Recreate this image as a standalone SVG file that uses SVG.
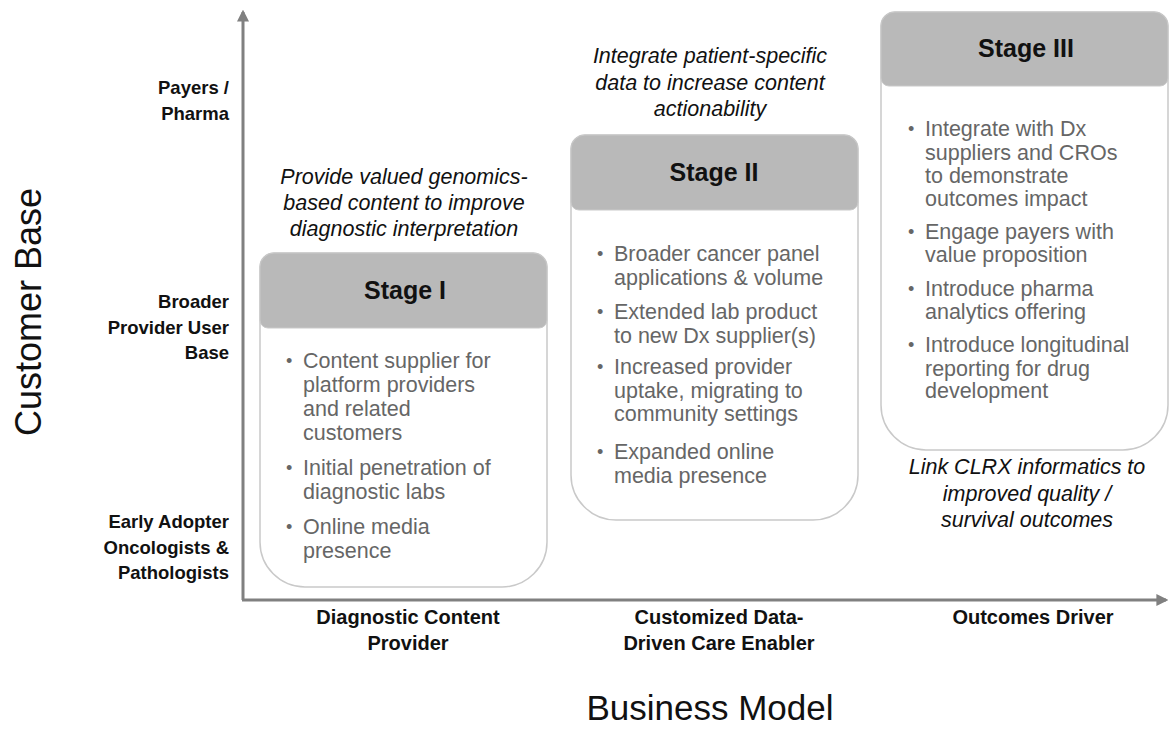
<svg xmlns="http://www.w3.org/2000/svg" width="1171" height="740" viewBox="0 0 1171 740">
<defs>
<marker id="arr" viewBox="0 0 10 10" refX="8" refY="5" markerWidth="4" markerHeight="4" orient="auto" markerUnits="strokeWidth">
<path d="M0,0 L10,5 L0,10 Z" fill="#808080"/>
</marker>
<style>
.box{fill:#ffffff;stroke:#c9c9c9;stroke-width:1.5}
.hdr{fill:#b9b9b9;stroke:#c9c9c9;stroke-width:1}
.title{font-family:"Liberation Sans",Arial,sans-serif;font-weight:bold;font-size:25px;fill:#111;text-anchor:middle}
.bul{font-family:"Liberation Sans",Arial,sans-serif;font-size:21.5px;fill:#666}
.dot{font-size:18px}
.cap{font-family:"Liberation Sans",Arial,sans-serif;font-style:italic;font-size:21.5px;fill:#111;text-anchor:middle}
.ylab{font-family:"Liberation Sans",Arial,sans-serif;font-weight:bold;font-size:18.5px;fill:#111;text-anchor:end}
.xlab{font-family:"Liberation Sans",Arial,sans-serif;font-weight:bold;font-size:20px;fill:#111;text-anchor:middle}
.axt{font-family:"Liberation Sans",Arial,sans-serif;font-size:36px;fill:#111;text-anchor:middle}
</style>
</defs>
<rect width="1171" height="740" fill="#ffffff"/>

<g id="connectors">
<line x1="243" y1="600" x2="243" y2="12" stroke="#808080" stroke-width="3" marker-end="url(#arr)"/>
<line x1="242" y1="600" x2="1166" y2="600" stroke="#808080" stroke-width="3" marker-end="url(#arr)"/>
</g>

<g id="axis-y-title">
<text class="axt" transform="translate(41,312) rotate(-90)" style="font-size:36px">Customer Base</text>
</g>
<g id="axis-x-title">
<text class="axt" x="710" y="720" style="font-size:35px">Business Model</text>
</g>

<g id="y-labels">
<text class="ylab" x="229" y="94">Payers /</text>
<text class="ylab" x="229" y="120">Pharma</text>
<text class="ylab" x="229" y="308">Broader</text>
<text class="ylab" x="229" y="334">Provider User</text>
<text class="ylab" x="229" y="359">Base</text>
<text class="ylab" x="229" y="528">Early Adopter</text>
<text class="ylab" x="229" y="554">Oncologists &amp;</text>
<text class="ylab" x="229" y="579">Pathologists</text>
</g>

<g id="x-labels">
<text class="xlab" x="408" y="624">Diagnostic Content</text>
<text class="xlab" x="408" y="650">Provider</text>
<text class="xlab" x="719" y="624">Customized Data-</text>
<text class="xlab" x="719" y="650">Driven Care Enabler</text>
<text class="xlab" x="1033" y="624">Outcomes Driver</text>
</g>

<g id="stage1">
<text class="cap" x="404" y="184">Provide valued genomics-</text>
<text class="cap" x="404" y="210">based content to improve</text>
<text class="cap" x="404" y="236">diagnostic interpretation</text>
<path class="box" d="M274,253 H533 A14,14 0 0 1 547,267 V542 A45,45 0 0 1 502,587 H305 A45,45 0 0 1 260,542 V267 A14,14 0 0 1 274,253 Z"/>
<path class="hdr" d="M274,253 H533 A14,14 0 0 1 547,267 V320 A8,8 0 0 1 539,328 H268 A8,8 0 0 1 260,320 V267 A14,14 0 0 1 274,253 Z"/>
<text class="title" x="405" y="299">Stage I</text>
<g class="bul">
<text class="dot" x="286" y="367">•</text><text x="303" y="368">Content supplier for</text>
<text x="303" y="392">platform providers</text>
<text x="303" y="416">and related</text>
<text x="303" y="440">customers</text>
<text class="dot" x="286" y="474">•</text><text x="303" y="475">Initial penetration of</text>
<text x="303" y="499">diagnostic labs</text>
<text class="dot" x="286" y="533">•</text><text x="303" y="534">Online media</text>
<text x="303" y="558">presence</text>
</g>
</g>

<g id="stage2">
<text class="cap" x="710" y="63">Integrate patient-specific</text>
<text class="cap" x="710" y="90">data to increase content</text>
<text class="cap" x="710" y="116">actionability</text>
<path class="box" d="M585,135 H844 A14,14 0 0 1 858,149 V475 A45,45 0 0 1 813,520 H616 A45,45 0 0 1 571,475 V149 A14,14 0 0 1 585,135 Z"/>
<path class="hdr" d="M585,135 H844 A14,14 0 0 1 858,149 V202 A8,8 0 0 1 850,210 H579 A8,8 0 0 1 571,202 V149 A14,14 0 0 1 585,135 Z"/>
<text class="title" x="714" y="181">Stage II</text>
<g class="bul">
<text class="dot" x="597" y="260">•</text><text x="614" y="261">Broader cancer panel</text>
<text x="614" y="285">applications &amp; volume</text>
<text class="dot" x="597" y="318">•</text><text x="614" y="319">Extended lab product</text>
<text x="614" y="343">to new Dx supplier(s)</text>
<text class="dot" x="597" y="373">•</text><text x="614" y="374">Increased provider</text>
<text x="614" y="398">uptake, migrating to</text>
<text x="614" y="421">community settings</text>
<text class="dot" x="597" y="458">•</text><text x="614" y="459">Expanded online</text>
<text x="614" y="483">media presence</text>
</g>
</g>

<g id="stage3">
<path class="box" d="M895,12 H1154 A14,14 0 0 1 1168,26 V405 A45,45 0 0 1 1123,450 H926 A45,45 0 0 1 881,405 V26 A14,14 0 0 1 895,12 Z"/>
<path class="hdr" d="M895,12 H1154 A14,14 0 0 1 1168,26 V78 A8,8 0 0 1 1160,86 H889 A8,8 0 0 1 881,78 V26 A14,14 0 0 1 895,12 Z"/>
<text class="title" x="1026" y="57">Stage III</text>
<g class="bul">
<text class="dot" x="908" y="135">•</text><text x="925" y="136">Integrate with Dx</text>
<text x="925" y="160">suppliers and CROs</text>
<text x="925" y="183">to demonstrate</text>
<text x="925" y="206">outcomes impact</text>
<text class="dot" x="908" y="238">•</text><text x="925" y="239">Engage payers with</text>
<text x="925" y="262">value proposition</text>
<text class="dot" x="908" y="295">•</text><text x="925" y="296">Introduce pharma</text>
<text x="925" y="319">analytics offering</text>
<text class="dot" x="908" y="351">•</text><text x="925" y="352">Introduce longitudinal</text>
<text x="925" y="376">reporting for drug</text>
<text x="925" y="398">development</text>
</g>
<text class="cap" x="1027" y="474">Link CLRX informatics to</text>
<text class="cap" x="1027" y="501">improved quality /</text>
<text class="cap" x="1027" y="527">survival outcomes</text>
</g>
</svg>
